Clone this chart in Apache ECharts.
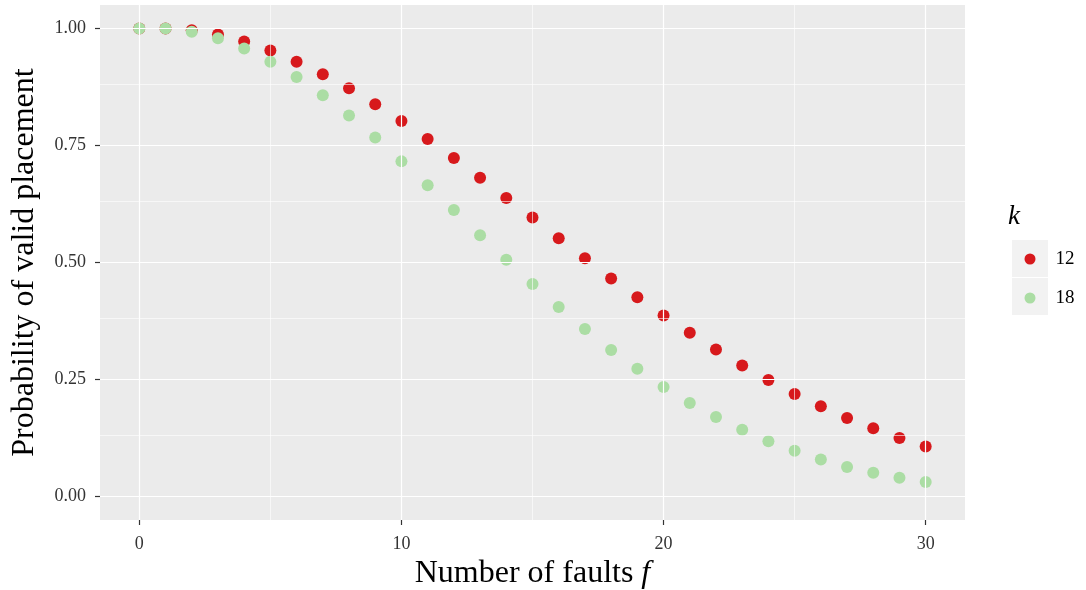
<!DOCTYPE html>
<html><head><meta charset="utf-8">
<script src="https://cdn.jsdelivr.net/npm/echarts@6/dist/echarts.min.js"></script>
<style>html,body{margin:0;padding:0;background:#fff}#c{width:1086px;height:590px}</style>
</head><body><div id="c"></div>
<script>
const faults = [0,1,2,3,4,5,6,7,8,9,10,11,12,13,14,15,16,17,18,19,20,21,22,23,24,25,26,27,28,29,30];
const k12 = [1.000,1.000,0.996,0.987,0.972,0.953,0.929,0.902,0.872,0.838,0.802,0.764,0.723,0.681,0.638,0.596,0.552,0.509,0.466,0.426,0.387,0.350,0.314,0.280,0.249,0.219,0.193,0.168,0.146,0.125,0.107];
const k18 = [1.000,1.000,0.993,0.979,0.957,0.929,0.896,0.857,0.814,0.767,0.716,0.665,0.612,0.558,0.506,0.454,0.405,0.358,0.313,0.273,0.234,0.200,0.170,0.143,0.118,0.098,0.079,0.063,0.051,0.040,0.031];
const xTicks = [0,10,20,30];
const xMinor = [5,15,25];
const yTicks = [0,0.25,0.5,0.75,1.0];
const yMinor = [0.125,0.375,0.625,0.875];
const seriesNames = ['12','18'];
const colors = ['#d7191c','#abdda4'];

const font = '"Liberation Serif", "DejaVu Serif", serif';
const chart = echarts.init(document.getElementById('c'));
const gridLines = [];
xMinor.forEach(v => gridLines.push({xAxis: v, lineStyle: {width: 0.6}}));
yMinor.forEach(v => gridLines.push({yAxis: v, lineStyle: {width: 0.6}}));
xTicks.forEach(v => gridLines.push({xAxis: v, lineStyle: {width: 1.2}}));
yTicks.forEach(v => gridLines.push({yAxis: v, lineStyle: {width: 1.2}}));

chart.setOption({
  animation: false,
  grid: {left: 100, top: 5, right: 121, bottom: 70, show: true, backgroundColor: '#ebebeb', borderWidth: 0,
         containLabel: false, outerBoundsMode: 'none'},
  xAxis: {
    type: 'value', min: -1.5, max: 31.5,
    name: 'Number of faults {i|f}', nameLocation: 'middle', nameGap: 36,
    nameTextStyle: {fontFamily: font, fontSize: 32, color: '#000', rich: {i: {fontFamily: font, fontSize: 32, fontStyle: 'italic', color: '#000'}}},
    axisLine: {show: false, onZero: false},
    axisTick: {show: true, length: 5, lineStyle: {color: '#333', width: 1.2}, customValues: xTicks},
    axisLabel: {fontFamily: font, fontSize: 18, color: '#333', margin: 15, customValues: xTicks},
    splitLine: {show: false}
  },
  yAxis: {
    type: 'value', min: -0.05, max: 1.05,
    name: 'Probability of valid placement', nameLocation: 'middle', nameGap: 59,
    nameTextStyle: {fontFamily: font, fontSize: 32, color: '#000'},
    axisLine: {show: false, onZero: false},
    axisTick: {show: true, length: 5, lineStyle: {color: '#333', width: 1.2}, customValues: yTicks},
    axisLabel: {fontFamily: font, fontSize: 18, color: '#333', margin: 14, customValues: yTicks,
      formatter: v => v.toFixed(2)},
    splitLine: {show: false}
  },
  legend: {
    orient: 'vertical', left: 1024.5, top: 249.5, padding: 0, itemWidth: 11, itemHeight: 11, itemGap: 20,
    icon: 'circle', data: seriesNames,
    textStyle: {fontFamily: font, fontSize: 19, color: '#000', padding: [0,0,0,15]}
  },
  graphic: [
    {type: 'text', left: 1008, top: 203, style: {text: 'k', fontFamily: font, fontSize: 27, fontStyle: 'italic', fill: '#000'}},
    {type: 'rect', left: 1012, top: 240, shape: {width: 36, height: 37}, style: {fill: '#f2f2f2'}, z: -1},
    {type: 'rect', left: 1012, top: 278, shape: {width: 36, height: 37}, style: {fill: '#f2f2f2'}, z: -1}
  ],
  series: [
    {type: 'line', data: [], z: 1, silent: true,
     markLine: {silent: true, symbol: 'none', label: {show: false}, animation: false,
       lineStyle: {color: '#ffffff', type: 'solid'}, data: gridLines}},
    {name: seriesNames[0], type: 'scatter', z: 3, symbolSize: 12, itemStyle: {color: colors[0], opacity: 1},
     data: faults.map((f, i) => [f, k12[i]])},
    {name: seriesNames[1], type: 'scatter', z: 4, symbolSize: 12, itemStyle: {color: colors[1], opacity: 1},
     data: faults.map((f, i) => [f, k18[i]])}
  ]
});
</script></body></html>
